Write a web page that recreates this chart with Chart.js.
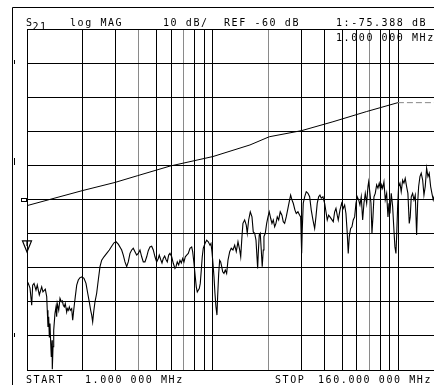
<!DOCTYPE html>
<html>
<head>
<meta charset="utf-8">
<script src="https://cdn.jsdelivr.net/npm/chart.js@4"></script>
<style>
  html,body{margin:0;padding:0;background:#fff;overflow:hidden;}
  #wrap{position:relative;width:434px;height:385px;overflow:hidden;}
  canvas{position:absolute;left:0;top:0;}
</style>
</head>
<body>
<div id="wrap"><canvas id="chart" width="440" height="385"></canvas></div>
<script>
/* S21 log MAG sweep, 1 - 160 MHz */

const X_MIN = 1, X_MAX = 160;
const Y_MIN = -110, Y_MAX = -10, Y_STEP = 10;
const X_GRID = [1,2,3,4,5,6,7,8,9,10,20,30,40,50,60,70,80,90,100,160];
const X_GRID_FAINT = [4,7,20,70];

const REF_DB = -60;
const MARKER_FREQ = 1, MARKER_DB = -75.388;

// upper trace (smooth, rising)
const UPPER_FREQ = [1,1.986,2.980,3.950,5.895,10.05,15.91,20.21,30.21,44.55,67.68,99.75];
const UPPER_DB   = [-61.8,-57.4,-55.0,-53.0,-50.2,-47.4,-44.0,-41.6,-39.8,-37.2,-34.2,-31.6];
const HOLD_FREQ  = [99.75,160];
const HOLD_DB    = [-31.6,-31.6];

// lower trace (noisy)
const LOWER_FREQ = [
  1.004,1.016,1.038,1.060,1.073,1.091,1.118,1.136,1.165,1.200,
  1.219,1.255,1.277,1.286,1.297,1.309,1.319,1.330,1.342,1.352,
  1.364,1.369,1.381,1.393,1.415,1.433,1.445,1.456,1.482,1.506,
  1.531,1.550,1.569,1.589,1.608,1.636,1.649,1.669,1.690,1.711,
  1.741,1.763,1.785,1.798,1.821,1.853,1.890,1.930,1.978,2.028,
  2.079,2.124,2.166,2.204,2.232,2.259,2.287,2.325,2.374,2.422,
  2.474,2.526,2.599,2.688,2.777,2.860,2.943,3.017,3.104,3.238,
  3.303,3.373,3.445,3.514,3.589,
  3.665,3.738,3.818,3.900,3.978,4.063,4.150,4.233,4.323,4.416,
  4.504,4.599,4.698,4.792,4.894,4.998,5.099,5.162,5.253,5.339,
  5.425,5.520,5.610,5.701,5.801,5.895,6.021,6.142,6.272,6.351,
  6.454,6.568,6.675,6.784,6.902,7.014,7.128,7.254,7.399,7.556,
  7.717,7.813,7.940,8.069,8.170,8.272,8.375,8.480,8.586,8.694,
  8.800,8.910,9.100,9.295,9.483,9.683,9.804,9.927,10.05,10.18,
  10.30,10.43,10.56,10.65,10.79,10.92,11.06,11.20,11.34,11.52,
  11.71,11.91,12.11,
  12.37,12.61,12.88,13.16,13.42,13.71,14.00,14.18,14.40,14.58,
  14.89,15.19,15.38,15.65,15.97,16.31,16.57,16.86,17.14,17.35,
  17.50,17.63,17.85,18.07,18.30,18.52,18.76,18.92,19.23,19.57,
  19.89,20.21,20.57,20.90,21.24,21.61,21.96,22.32,22.71,23.16,
  23.65,24.04,24.46,24.95,25.48,26.02,26.35,26.78,27.22,27.80,
  28.25,28.85,29.47,29.84,30.21,30.43,30.81,31.36,31.98,32.67,
  33.36,34.03,34.75,35.49,36.07,36.65,37.30,37.91,38.53,39.35,
  40.18,40.99,41.50,42.23,42.92,
  44.72,45.50,46.24,46.98,47.57,48.59,49.62,50.62,51.50,52.34,
  53.19,53.85,54.53,55.48,56.38,57.30,58.31,59.26,60.22,61.28,
  62.27,63.29,64.40,65.45,66.52,67.68,68.78,69.38,70.51,71.39,
  72.28,73.18,74.09,75.30,76.61,77.85,79.11,80.51,81.51,82.52,
  83.86,85.23,86.73,88.14,89.24,90.36,91.82,93.42,94.94,96.12,
  97.32,98.17,99.40,100.6,102.3,103.9,105.8,107.5,109.2,111.1,
  112.9,114.8,116.2,117.7,119.7,121.7,123.7,125.8,127.4,129.0,
  131.1,133.2,135.6,137.8,140.0,142.4,144.8,147.1,149.7,152.1,
  154.6,160
];
const LOWER_DB = [
  -85.1,-84.6,-86.0,-91.0,-85.1,-84.6,-86.6,-85.1,-88.0,-85.6,
  -87.1,-86.3,-88.5,-92.5,-97.4,-94.4,-100.3,-96.4,-102.2,-106.2,
  -101.3,-109.8,-103.2,-98.3,-93.4,-91.5,-94.4,-90.5,-92.5,-89.0,
  -90.0,-89.7,-91.0,-91.5,-90.5,-93.0,-92.0,-92.5,-91.5,-92.5,
  -92.0,-95.4,-92.5,-91.0,-88.5,-85.1,-83.6,-82.9,-82.7,-83.1,
  -84.6,-87.5,-90.0,-92.5,-93.9,-95.9,-93.0,-90.0,-87.5,-83.6,
  -79.7,-77.8,-76.8,-75.8,-74.8,-73.7,-72.7,-72.4,-73.1,-74.8,
  -76.3,-78.3,-79.7,-78.3,-75.8,
  -74.8,-74.3,-75.3,-76.3,-75.8,-74.8,-76.8,-78.3,-78.3,-76.8,
  -75.0,-73.9,-73.7,-74.8,-76.8,-78.3,-77.3,-76.3,-77.6,-78.6,
  -77.3,-76.6,-77.6,-78.3,-76.3,-75.8,-76.8,-78.7,-80.2,-79.7,
  -78.3,-79.2,-77.8,-78.6,-77.3,-78.3,-76.8,-76.3,-75.8,-74.3,
  -73.9,-75.3,-78.7,-82.7,-85.6,-87.1,-86.6,-86.1,-84.6,-80.7,
  -76.8,-74.3,-72.9,-71.9,-72.4,-73.4,-72.9,-75.3,-78.7,-82.7,
  -87.5,-91.5,-93.9,-88.5,-81.7,-77.8,-78.3,-79.7,-81.2,-81.7,
  -80.7,-81.7,-77.8,
  -75.3,-74.3,-74.8,-73.4,-75.3,-72.4,-74.8,-76.8,-70.9,-67.0,
  -66.0,-67.5,-69.9,-66.0,-63.6,-65.1,-69.5,-69.9,-71.9,-76.8,
  -80.2,-75.8,-70.4,-69.9,-74.8,-79.7,-74.8,-70.9,-69.9,-67.0,
  -65.1,-63.6,-65.5,-67.0,-66.0,-68.0,-67.0,-65.1,-66.0,-63.6,
  -64.6,-66.5,-67.0,-65.1,-62.6,-60.1,-58.7,-60.1,-61.1,-63.1,
  -64.1,-63.6,-64.6,-65.1,-75.8,-69.0,-61.1,-59.2,-57.7,-58.2,
  -59.2,-63.1,-66.0,-68.5,-65.1,-61.1,-59.2,-58.7,-59.6,-59.2,
  -61.1,-64.1,-66.0,-64.6,-65.1,
  -66.5,-63.6,-62.6,-64.6,-66.0,-63.1,-61.1,-62.6,-61.6,-64.1,
  -69.9,-75.8,-70.9,-68.5,-68.0,-66.0,-65.1,-61.1,-59.2,-60.1,
  -61.6,-59.2,-66.0,-61.1,-58.2,-61.1,-56.2,-54.8,-58.2,-61.1,
  -69.9,-65.1,-59.2,-58.2,-55.7,-56.7,-55.2,-57.2,-55.7,-56.7,
  -54.8,-60.1,-58.2,-65.1,-61.1,-64.1,-58.2,-62.1,-69.0,-73.9,
  -75.8,-70.9,-62.1,-56.2,-55.2,-57.7,-54.3,-55.2,-53.8,-56.2,
  -58.2,-67.0,-65.1,-59.2,-58.2,-60.1,-58.7,-70.4,-61.1,-56.2,
  -53.3,-52.3,-54.3,-58.7,-56.2,-50.8,-53.3,-52.3,-56.2,-58.2,
  -60.1,-57.2
];

const pts = (xs, ys) => xs.map((x, i) => ({x, y: ys[i]}));

// ── annotations (header/footer text, frame, markers) ─────────────────────────
const FONT = '10px "DejaVu Sans Mono", "Liberation Mono", monospace';
const ADV  = 7.6;
function mono(ctx, s, x, y){
    for(let i=0;i<s.length;i++) ctx.fillText(s[i], x + i*ADV, y);
}

const analyzerDeco = {
    id: "analyzerDeco",
    afterDraw(chart){
        const {ctx, scales:{x, y}} = chart;
        ctx.save();
        ctx.fillStyle = "#000";
        ctx.strokeStyle = "#000";
        ctx.lineWidth = 1;

        // outer frame
        ctx.beginPath();
        ctx.moveTo(12.5, 385); ctx.lineTo(12.5, 7.5); ctx.lineTo(440, 7.5);
        ctx.stroke();

        // small marks left of the graticule
        ctx.fillRect(14, 60, 1, 4);
        ctx.fillRect(14, 158, 1, 7);
        ctx.fillRect(14, 333, 1, 4);

        // reference position marker
        const yr = Math.round(y.getPixelForValue(REF_DB));
        ctx.strokeRect(21.5, yr - 1.5, 5, 3);

        // marker 1 (triangle, tip on the marker value)
        const mx = x.getPixelForValue(MARKER_FREQ), my = y.getPixelForValue(MARKER_DB);
        ctx.lineWidth = 1.2;
        ctx.beginPath();
        ctx.moveTo(mx, my); ctx.lineTo(mx - 4.5, my - 11); ctx.lineTo(mx + 4.5, my - 11);
        ctx.closePath();
        ctx.stroke();
        ctx.beginPath(); ctx.moveTo(mx, my - 11); ctx.lineTo(mx, my - 6); ctx.stroke();

        // text
        ctx.font = FONT;
        ctx.textBaseline = "alphabetic";
        mono(ctx, "S", 26, 25.5);
        mono(ctx, "21", 32.5, 29.5);
        mono(ctx, "log MAG", 70, 25.5);
        mono(ctx, "10 dB/", 163, 25.5);
        mono(ctx, "REF -60 dB", 224, 25.5);
        mono(ctx, "1:-75.388 dB", 336, 25.5);
        mono(ctx, "1.000 000 MHz", 336, 40.5);
        mono(ctx, "START", 26, 383);
        mono(ctx, "1.000 000 MHz", 85, 383);
        mono(ctx, "STOP", 275, 383);
        mono(ctx, "160.000 000 MHz", 318, 383);
        ctx.restore();
    }
};

new Chart(document.getElementById("chart"), {
    type: "line",
    data: {
        datasets: [
            {label:"lower", data: pts(LOWER_FREQ, LOWER_DB), borderColor:"#000", borderWidth:1.1},
            {label:"upper", data: pts(UPPER_FREQ, UPPER_DB), borderColor:"#000", borderWidth:1},
            {label:"hold",  data: pts(HOLD_FREQ, HOLD_DB), borderColor:"#888", borderWidth:1, borderDash:[6,3]}
        ]
    },
    options: {
        responsive: false,
        devicePixelRatio: 1,
        animation: false,
        layout: {padding: {left: 27, top: 29, right: 4, bottom: 15}},
        elements: {point: {radius: 0}, line: {tension: 0}},
        plugins: {legend: {display: false}, tooltip: {enabled: false}},
        scales: {
            x: {
                type: "logarithmic", min: X_MIN, max: X_MAX,
                afterBuildTicks: s => { s.ticks = X_GRID.map(v => ({value: v})); },
                ticks: {display: false},
                grid: {drawTicks: false, lineWidth: 1,
                       color: c => (c.tick && X_GRID_FAINT.includes(c.tick.value)) ? "#8a8a8a" : "#000"},
                border: {display: true, color: "#000", width: 1}
            },
            y: {
                min: Y_MIN, max: Y_MAX,
                ticks: {display: false, stepSize: Y_STEP},
                grid: {drawTicks: false, color: "#000", lineWidth: 1},
                border: {display: true, color: "#000", width: 1}
            }
        }
    },
    plugins: [analyzerDeco]
});
</script>
</body>
</html>
